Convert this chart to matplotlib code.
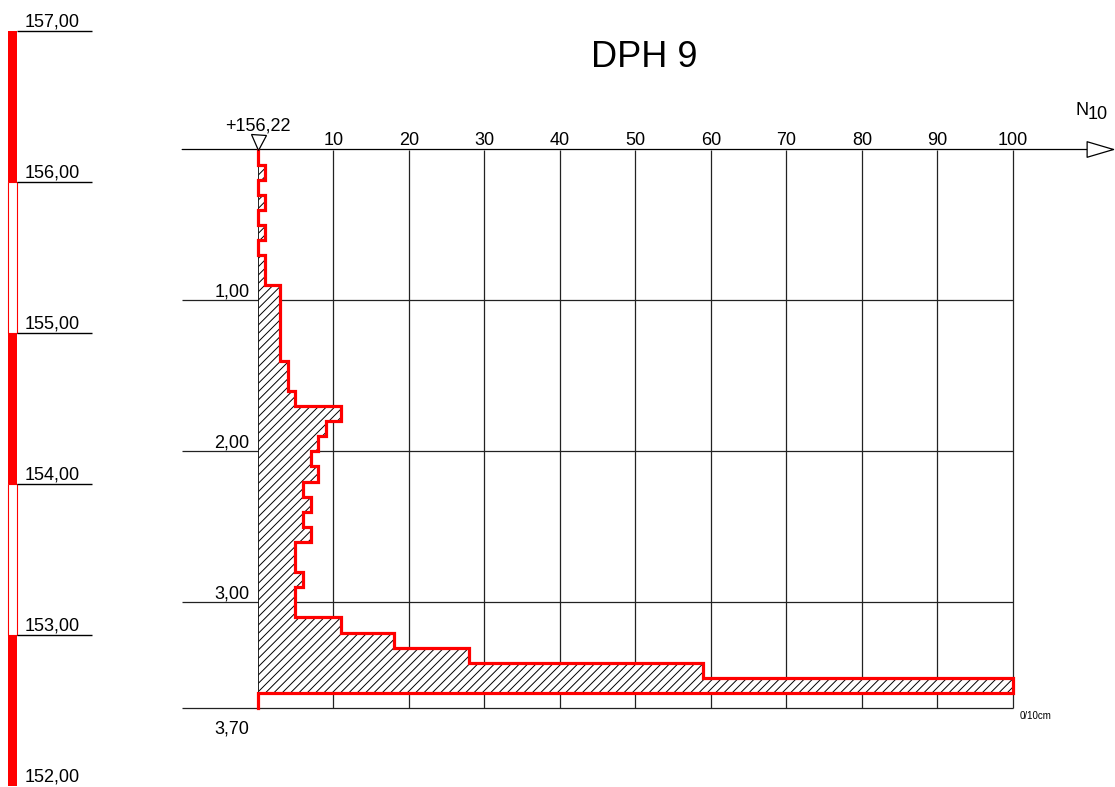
import numpy as np
import matplotlib
matplotlib.use("Agg")
import matplotlib.pyplot as plt
from matplotlib.transforms import offset_copy

plt.rcParams['font.family'] = ['Liberation Sans', 'DejaVu Sans']
plt.rcParams['hatch.linewidth'] = 0.7

# --- dane sondowania DPH 9 ---
title = "DPH 9"
ground = 156.22
depth_step = 0.1
n10 = [0, 1, 0, 1, 0, 1, 0, 1, 1, 3,
       3, 3, 3, 3, 4, 4, 5, 11, 9, 8,
       7, 8, 6, 7, 6, 7, 5, 5, 6, 5,
       5, 11, 18, 28, 59, 100, 0]
max_depth = 3.70
depth_marks = [1.0, 2.0, 3.0]
n_ticks = [10, 20, 30, 40, 50, 60, 70, 80, 90, 100]
elev_levels = [157, 156, 155, 154, 153, 152]

FS = 13


def fmt(v):
    return f"{v:.2f}".replace('.', ',')


W, H = 1115, 787
fig = plt.figure(figsize=(W / 100, H / 100), dpi=100)

# osie glowne: N10 = 0..100 -> px 258..1013, glebokosc 0..3.70 -> px 150..708
x0, x1, y0, y1 = 257.7, 1013.0, 149.5, 708.0
ax = fig.add_axes([x0 / W, 1 - y1 / H, (x1 - x0) / W, (y1 - y0) / H])
ax.set_xlim(0, 100)
ax.set_ylim(max_depth, 0)
ax.axis('off')

edges = np.round(np.arange(len(n10) + 1) * depth_step, 2)
vals = np.array(n10, dtype=float)

# siatka
ax.vlines(n_ticks, 0, max_depth, color='#222222', lw=0.9, zorder=1,
          clip_on=False)
ax.hlines(depth_marks + [max_depth], -10, 100, color='#222222', lw=0.9,
          zorder=1, clip_on=False)
ax.annotate('', xy=(113.6, 0), xytext=(-10, 0), annotation_clip=False,
            arrowprops=dict(arrowstyle='-|>,head_length=0.95,head_width=0.28',
                            mutation_scale=20, fc='white', ec='black',
                            lw=0.9, shrinkA=0, shrinkB=0))

# wykres N10
ax.fill_betweenx(edges, 0, np.append(vals, vals[-1]), step='post',
                 facecolor='white', edgecolor='black', hatch='////',
                 lw=0.6, zorder=2)
xs = np.repeat(vals, 2)
ys = np.column_stack([edges[:-1], edges[1:]]).ravel()
ax.plot(xs, ys, color='#ff0000', lw=2.3, solid_joinstyle='miter',
        zorder=3, clip_on=False)

# opisy osi
for t in n_ticks:
    ax.annotate(str(t), xy=(t, 0), xytext=(0, 3.2), textcoords='offset points',
                ha='center', va='baseline', fontsize=FS, annotation_clip=False)
for d in depth_marks:
    ax.annotate(fmt(d), xy=(0, d), xytext=(-5.8, 3), textcoords='offset points',
                ha='right', va='baseline', fontsize=FS, annotation_clip=False)
ax.annotate(fmt(max_depth), xy=(0, max_depth), xytext=(-5.8, -18),
            textcoords='offset points', ha='right', va='baseline',
            fontsize=FS, annotation_clip=False)
ax.annotate("0/10cm", xy=(100, max_depth), xytext=(5, -8),
            textcoords='offset points', ha='left', va='baseline',
            fontsize=7, annotation_clip=False)
ax.annotate("+" + fmt(ground), xy=(0, 0), xytext=(0, 14),
            textcoords='offset points', ha='center', va='baseline',
            fontsize=FS, annotation_clip=False)
tri = offset_copy(ax.transData, fig=fig, x=0, y=5.2, units='points')
ax.plot([0], [0], marker='v', ms=10.8, mfc='white', mec='black', mew=0.9,
        transform=tri, clip_on=False, zorder=4)
ax.text(108.3, -0.229, "N", fontsize=FS, ha='left', va='baseline')
ax.text(109.9, -0.199, "10", fontsize=FS, ha='left', va='baseline')

fig.text(644.5 / W, 1 - 67 / H, title, fontsize=26, ha='center', va='baseline')

# kolumna rzednych
ax_el = fig.add_axes([0, 0, 100 / W, 1])
ax_el.set_xlim(0, 100)
ax_el.set_ylim(157 - (H - 31) / 151, 157 + 31 / 151)
ax_el.axis('off')
for i in range(len(elev_levels) - 1):
    lo = elev_levels[i + 1]
    if i % 2 == 0:
        ax_el.bar(12.5, 1, bottom=lo, width=8.4, color='#ff0000', lw=0)
    else:
        ax_el.bar(12.5, 1, bottom=lo, width=8.4, facecolor='white',
                  edgecolor='#ff0000', lw=0.8)
ax_el.hlines(elev_levels[:-1], 16.7, 91.7, color='black', lw=1)
for e in elev_levels:
    ax_el.annotate(fmt(e), xy=(25, e), xytext=(0, 3), textcoords='offset points',
                   ha='left', va='baseline', fontsize=FS, annotation_clip=False)

fig.savefig("out.png", dpi=100)
